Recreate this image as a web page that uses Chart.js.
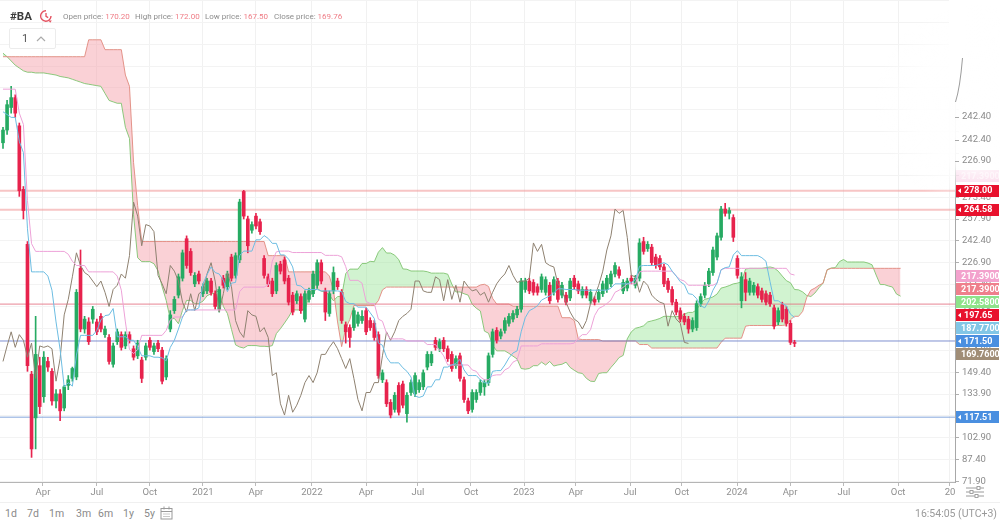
<!DOCTYPE html>
<html>
<head>
<meta charset="utf-8">
<script src="https://cdn.jsdelivr.net/npm/chart.js@4.4.1/dist/chart.umd.min.js"></script>
<style>
html,body{margin:0;padding:0;background:#fff;}
#wrap{position:relative;width:1000px;height:522px;overflow:hidden;font-family:Roboto,"Noto Sans",Arial,sans-serif;}
#cvbox{position:absolute;left:0;top:0;width:1000px;height:502px;}
.abs{position:absolute;white-space:nowrap;}
.sym{left:10px;top:9px;font-size:11.5px;font-weight:bold;color:#3c3c3c;}
.lbl{top:12px;font-size:8px;color:#8d8d8d;}
.lbl b{font-weight:normal;color:#ef7d86;margin-left:2px;}
.box{left:9px;top:28px;width:45px;height:19px;border:1px solid #ececec;border-radius:2px;background:rgba(255,255,255,0.85);}
.box span{position:absolute;left:12px;top:3px;font-size:11px;color:#555;}
#bottom{position:absolute;left:0;top:502px;width:1000px;height:20px;border-top:1px solid #f0f0f0;}
.per{top:4px;font-size:10.5px;color:#8a8a8a;}
.clock{right:3px;top:4px;font-size:10.5px;color:#9a9a9a;}
</style>
</head>
<body>
<div id="wrap">
  <div id="cvbox"><canvas id="cv"></canvas></div>
  <div class="abs sym">#BA</div>
  <svg class="abs" style="left:38px;top:8px" width="16" height="16" viewBox="0 0 16 16">
    <path d="M13 8 A5.2 5.2 0 1 1 8 2.8" fill="none" stroke="#e4515f" stroke-width="1.4"/>
    <path d="M8 5 V8.3 L10.2 9.6" fill="none" stroke="#e4515f" stroke-width="1.3"/>
    <path d="M10.5 12.5 L13.8 12.5 L12.2 14.8 Z" fill="#e4515f"/>
  </svg>
  <div class="abs lbl" style="left:63px">Open price:<b>170.20</b></div>
  <div class="abs lbl" style="left:135px">High price:<b>172.00</b></div>
  <div class="abs lbl" style="left:205px">Low price:<b>167.50</b></div>
  <div class="abs lbl" style="left:274px">Close price:<b>169.76</b></div>
  <div class="abs box"><span>1</span>
    <svg style="position:absolute;left:26px;top:6px" width="10" height="7" viewBox="0 0 10 7"><polyline points="1,6 5,2 9,6" fill="none" stroke="#aaa" stroke-width="1.2"/></svg>
  </div>
  <svg class="abs" style="left:965px;top:486px" width="20" height="12" viewBox="0 0 20 12">
    <line x1="1" y1="2" x2="19" y2="2" stroke="#9a9a9a" stroke-width="1"/>
    <line x1="1" y1="6" x2="19" y2="6" stroke="#9a9a9a" stroke-width="1"/>
    <line x1="1" y1="10" x2="19" y2="10" stroke="#9a9a9a" stroke-width="1"/>
    <rect x="12" y="0.5" width="3" height="3" fill="#fff" stroke="#9a9a9a" stroke-width="0.9"/>
    <rect x="5" y="4.5" width="3" height="3" fill="#fff" stroke="#9a9a9a" stroke-width="0.9"/>
    <rect x="10" y="8.5" width="3" height="3" fill="#fff" stroke="#9a9a9a" stroke-width="0.9"/>
  </svg>
  <div id="bottom">
    <div class="abs per" style="left:5px">1d</div>
    <div class="abs per" style="left:27px">7d</div>
    <div class="abs per" style="left:49px">1m</div>
    <div class="abs per" style="left:76px">3m</div>
    <div class="abs per" style="left:98px">6m</div>
    <div class="abs per" style="left:123px">1y</div>
    <div class="abs per" style="left:144px">5y</div>
    <svg class="abs" style="left:160px;top:3px" width="13" height="14" viewBox="0 0 13 14">
      <rect x="1" y="2.5" width="11" height="10.5" fill="none" stroke="#9a9a9a" stroke-width="1"/>
      <line x1="1" y1="5.5" x2="12" y2="5.5" stroke="#9a9a9a" stroke-width="1"/>
      <line x1="4" y1="0.5" x2="4" y2="3.5" stroke="#9a9a9a" stroke-width="1"/>
      <line x1="9" y1="0.5" x2="9" y2="3.5" stroke="#9a9a9a" stroke-width="1"/>
      <line x1="3" y1="8" x2="10" y2="8" stroke="#bbb" stroke-width="0.8"/>
      <line x1="3" y1="10.5" x2="10" y2="10.5" stroke="#bbb" stroke-width="0.8"/>
    </svg>
    <div class="abs clock">16:54:05 (UTC+3)</div>
  </div>
</div>
<script>
// ---------- DATA (weekly candles, index 0 = mid Jan 2020) ----------
const opens = [
312,321,337,344,324,279,240,148,117,154,
132,157,150,129,134,124,140,145,146,223,
180,185,187,185,189,176,174,155,171,176,
168,176,166,161,158,160,172,164,170,165,
146,180,193,204,216,244,235,212,219,205,
207,214,205,194,216,210,231,218,229,277.5,
258,250,260,256,230,217,214,207,226,229,
216,204,200,203,187,201,205,211,227,207,
191,207,214,206,183,181,181,184,186,193,
186,184,176,144,142,128,123,140,141,120,
135,134,137,139,153,156,172,166,172,166,
162,154,161,144,129,123,130,135,139,142,
162,179,175,179,184,187,190,194,208,214,
213,210,208,206,211,206,214,204,204,202,
216,212,204,208,200,201,201,205,208,212,
219,222,207,209,216,211,216,242,237,238,
231,230,224,214,208,199,193,189,187,180,
181,198,204,212,220,231,245,265,262,259,
230,200,215,206,206,210,207,205,204,195,
185,197,194,184,170.2
];
const highs = [
323,342,352,346,326,281,242,150,189,160,
164,160,152,137,137,140,147,153,208,236,
189,188,196,187,191,182,176,170,180,178,
178,178,168,172,160,170,174,170,172,167,
161,193,203,219,236,246,237,220,221,212,
216,216,207,210,218,221,233,234,272,278.3,
260,256,262,258,232,219,216,227,228,231,
218,206,207,205,207,209,221,229,229,209,
207,224,216,208,185,183,195,192,193,195,
188,186,178,151,144,130,135,142,143,135,
144,149,144,151,164,164,174,173,174,168,
164,161,163,146,131,137,137,144,144,163,
180,181,180,188,191,193,196,216,216,216,
215,212,219,217,213,217,216,213,206,216,
218,214,210,210,208,203,208,214,218,221,
227,224,215,216,218,218,244,245,242,240,
233,232,226,216,210,201,195,191,189,188,
200,205,213,223,238,248,267,269,266,261,
232,220,220,216,213,212,209,207,206,197,
195,199,196,186,172
];
const lows = [
308,318,333,330,274,258,150,89,95,120,
128,150,126,124,115,122,137,143,144,178,
177,169,184,176,178,174,155,153,169,165,
166,170,158,159,142,158,165,162,164,141,
144,178,191,202,214,223,218,210,212,203,
205,204,194,192,209,208,214,216,227,258,
234,248,251,247,216,210,203,205,219,212,
197,190,198,191,185,199,203,209,212,186,
189,205,208,184,170,167,179,182,184,176,
179,172,145,142,125,117,121,119,124,114,
133,132,135,137,151,154,165,164,164,157,
150,152,143,128,120,121,128,133,133,140,
160,170,173,177,182,185,188,192,206,205,
204,204,206,204,198,204,199,202,197,200,
208,205,202,202,198,197,199,203,206,210,
217,216,205,207,212,209,214,233,235,225,
223,222,210,206,197,190,185,183,177,178,
179,196,202,210,218,229,243,260,258,242,
216,195,200,204,204,202,199,197,196,180,
183,185,182,169,167.5
];
const closes = [
321,339,344,333,278,264,154,95,162,125,
160,153,129,134,122,139,144,152,206,180,
187,171,194,178,180,180,157,168,178,167,
176,172,160,170,145,168,167,168,166,143,
159,190,201,217,234,225,220,218,214,210,
214,206,196,208,211,219,216,232,270,260,
239,254,253,249,218,212,205,225,221,214,
199,192,205,193,205,207,219,227,214,192,
205,220,210,186,178,174,193,190,189,178,
181,174,147,149,127,119,133,121,126,133,
142,147,142,149,162,162,167,171,166,159,
152,159,145,130,122,135,135,142,142,161,
178,172,178,186,189,191,194,214,214,207,
206,206,217,215,200,215,201,211,199,214,
210,207,208,204,206,199,206,212,216,219,
225,218,213,214,214,216,241,235,240,227,
225,224,212,208,199,192,187,185,180,186,
198,203,211,221,236,246,265,262,264,245,
218,217,206,214,211,204,201,199,198,182,
193,187,184,170.5,169.76
];
// Ichimoku conversion line (light blue), index 0..194
const tenkan = [
334,332,330,330,313,305,251,220.5,220.5,220.5,
220.5,217.5,207.5,185,165.5,139,142,139.5,161.5,175.5,
175.5,175.5,175.5,179,186.5,189.5,190,194.5,174.5,174.5,
174.5,172,172,167.5,161,161,161,160,160,159.5,
157.5,167,172,180,188.5,193.5,193.5,193.5,195,212,
218.5,224,220,219,214.5,206.5,212.5,213,232,235.2,
235.2,235.2,243.2,243.2,246.2,244.2,240.7,240.7,232.5,232.5,
229.5,224,211,210.5,208,208,208,208,207,207,
207,207,207,206.5,199.5,198,198,195.5,195.5,195.5,
191.5,187.5,170,168.5,160,156,156,156,152.5,150,
146,132.5,131.5,132.5,139,139,144,144,153,153,
154.5,155.5,158.5,151,147,147,147,144,142,141.5,
150,150.5,150.5,154.5,159.5,163,164.5,178,188,193,
194.5,196.5,200.5,202,203.5,205.5,208.5,208.5,208,208,
208,207.5,207.5,207.5,207.5,207.5,207.5,207.5,207.5,209,
212,212,212,212,213,215,224.5,225,225,225,
225,226,227,225.5,221,217.5,213.5,211.5,205,204.5,
201.5,196.5,195,200,207.5,212.5,222,223.5,224,232.5,
235.5,232,232,232,232,232,230.5,228,213.5,200,
200,198,196.5,190.5,188.25
];
// Ichimoku base line (pink), index 0..194
const kijun = [
350,350,350,350,333,325,271,240.5,235,235,
235,235,235,235,235,235,233,228,225,225,
225,220.5,220.5,220.5,220.5,220.5,220.5,220.5,217.5,207.5,
185,165.5,162.5,165.5,175.5,175.5,175.5,175.5,175.5,175.5,
179,186.5,188.5,188.5,188.5,193.5,193.5,193.5,193.5,193.5,
193.5,193.5,193.5,193.5,193.5,193.5,193.5,193.5,206.5,209.7,
209.7,209.7,209.7,209.7,209.7,211.2,228.2,234.7,235.2,235.2,
235.2,234.2,234.2,234.2,234.2,234.2,234.2,234.2,234.2,232.2,
232.2,232.2,232.2,231.2,224.2,214.5,214.5,214.5,212.5,199.5,
198,198,187,185.5,177,173,173,173,173,171.5,
171.5,171.5,171.5,171.5,169,169,169,165,161,154.5,
154.5,154.5,154.5,154.5,154.5,151,150,146,144,144,
147,147.5,147.5,151,152.5,156.5,158,168,168,168,
168,168,169.5,169.5,169.5,169.5,169.5,169.5,169.5,169.5,
170,173.5,176,176,179.5,189.5,194.5,196,198,200.5,
206,207.5,209.5,212,212,212,220.5,221,221,221,
221,221,221,221,221,217.5,215,214,211,211,
211,211,211,211,211,212.5,222,223,223,223,
223,223,223,223,223,223,223,223,223,223,
223,223,223,219,218.25
];
// Lagging span (brown-grey), drawn from index 0..168
const chikou = [
157,168,178,167,
176,172,160,170,145,168,167,168,166,143,
159,190,201,217,234,225,220,218,214,210,
214,206,196,208,211,219,216,232,270,260,
239,254,253,249,218,212,205,225,221,214,
199,192,205,193,205,207,219,227,214,192,
205,220,210,186,178,174,193,190,189,178,
181,174,147,149,127,119,133,121,126,133,
142,147,142,149,162,162,167,171,166,159,
152,159,145,130,122,135,135,142,142,161,
178,172,178,186,189,191,194,214,214,207,
206,206,217,215,200,215,201,211,199,214,
210,207,208,204,206,199,206,212,216,219,
225,218,213,214,214,216,241,235,240,227,
225,224,212,208,199,192,187,185,180,186,
198,203,211,221,236,246,265,262,264,245,
218,217,206,214,211,204,201,199,198,182,
193,187,184,170.5,169.76
];
// Leading span A (green edge), index 0..220
const spanA = [
375.5,373,370,367,365,363,362,362,361.5,361.5,
361.5,361,360.5,360,359,358.5,358,357,356,355,
354,353.5,353,352.5,352,347,342,341,340,340,
323,315,261,230.5,227.75,227.75,227.75,226.25,221.25,210,
200.25,187,187.5,183.75,193.25,200.25,200.25,198,198,199.75,
203.5,205,205.25,207.5,196,191,179.75,168.75,167.25,166.5,
168.25,168.25,168.25,167.75,167.75,167.5,168.25,176.75,180.25,184.25,
188.5,193.5,193.5,193.5,194.25,202.75,206,208.75,206.75,206.25,
204,200,203,203.25,219.25,222.45,222.45,222.45,226.45,226.45,
227.95,227.7,234.45,237.7,233.85,233.85,232.35,229.1,222.6,222.35,
221.1,221.1,221.1,221.1,220.6,219.6,219.6,219.6,219.6,218.85,
211.85,206.25,206.25,205,204,197.5,194.75,192.75,178.5,177,
168.5,164.5,164.5,164.5,162.75,160.75,158.75,152,151.5,152,
154,154,156.5,154.5,157,153.75,154.5,155,156.5,152.75,
150.75,149,148.5,145,143,142.75,148.5,149,149,152.75,
156,159.75,161.25,173,178,180.5,181.25,182.25,185,185.75,
186.5,187.5,189,189,188.75,188.75,189,190.5,191.75,191.75,
193.5,198.5,201,201.75,202.75,204.75,209,209.75,210.75,212,
212.5,213.5,222.5,223,223,223,223,223.5,224,223.25,
221,217.5,214.25,212.75,208,207.75,206.25,203.75,203,205.5,
209.25,212.5,222,223.25,223.5,227.75,229.25,227.5,227.5,227.5,
227.5,227.5,226.75,225.5,218.25,211.5,211.5,210.5,209.75,204.75,
203.25
];
// Leading span B (red edge), index 0..220
const spanB = [
373,373,373,373,373,373,373,373,373,373,
373,373,373,373,373,373,373,373,373,373,
373,385,385,385,385,378,378,378,378,378,
360,352,298,267.5,242,242,242,242,242,242,
242,242,242,242,242,242,242,242,242,242,
242,242,242,242,242,242,242,242,242,242,
242,242,242,242,242,232,232,232,232,232,
220.5,220.5,220.5,220.5,220.5,220.5,220.5,220.5,220.5,220.5,
217.5,207.5,185,167.5,180.5,186.7,196.7,196.7,196.7,196.7,
196.7,196.7,200.1,207.7,209.7,209.7,209.7,209.7,209.7,209.7,
209.7,209.7,209.7,209.7,209.7,209.7,209.7,209.7,209.7,209.7,
209.7,209.7,209.7,209.7,209.7,209.7,209.7,211.2,211.7,210.2,
201.7,197.7,197.7,197.7,197.7,196.2,196.2,196.2,196.2,196.2,
196.2,196.2,196.2,196.2,196.2,196.2,196.2,188,188,188,
186,173,172.5,172.5,172.5,172.5,172.5,171.5,171.5,171.5,
171.5,171.5,171.5,171.5,171.5,171.5,169,169,169,166.5,
166.5,166.5,166.5,166.5,166.5,166.5,166.5,166.5,166.5,166.5,
166.5,166.5,166.5,166.5,166.5,166.5,170.5,173.5,173.5,173.5,
173.5,173.5,182,182.5,182.5,182.5,182.5,182.5,182.5,182.5,
182.5,182.5,183,186.5,189,189,192.5,202.5,207.5,209,
211,212.5,222,223,223,223,223,223,223,223,
223,223,223,223,223,223,223,223,223,223,
223
];
// Horizontal price levels
const levelValues = [278.00, 264.58, 197.65, 171.50, 117.51];
// Right-hand price tags
const tagValues = [278.00, 264.58, 217.39, 217.39, 202.58, 197.65, 187.77, 171.50, 169.76, 117.51];
const tagTexts  = ['278.00','264.58','217.3900','217.3900','202.5800','197.65','187.7700','171.50','169.7600','117.51'];
// Axis ticks
const xTickPos    = [9.8, 23.0, 36.0, 49.0, 62.0, 75.7, 89.0, 101.7, 114.7, 127.7, 140.4, 153.7, 166.4, 179.9, 192.9, 206.1, 219.4, 232.1];
const xTickLabels = ['Apr','Jul','Oct','2021','Apr','2022','Apr','Jul','Oct','2023','Apr','Jul','Oct','2024','Apr','Jul','Oct','20'];
const yTickValues = [71.9,87.4,102.9,118.4,133.9,149.4,164.9,180.4,195.9,211.4,226.9,242.4,257.9,273.4,288.9,304.4,319.9,335.4,350.9,366.4,381.9,397.4,412.9];
const yTickLabels = ['71.90','87.40','102.90','118.40','133.90','149.40','164.90','180.40','195.90','211.40','226.90','242.40','257.90','273.40','','','','','','','','',''];
const ghostTickValues = [330.2, 314.0, 299.1];
const ghostTickLabels = ['242.40','242.40','226.90'];
const fadedTagValue = 288.4;

// ---------- STYLE ----------
const UP = '#27ab63', DOWN = '#e7234d';
const levelStyles = [
  {c:'rgba(240,150,150,0.55)', w:2},
  {c:'rgba(240,150,150,0.55)', w:2},
  {c:'rgba(228,110,128,0.85)', w:1},
  {c:'rgba(105,125,200,0.85)', w:1},
  {c:'rgba(110,150,215,0.85)', w:1}
];
const tagStyles = [
  {bg:'#e8112d', arrow:true},
  {bg:'#e8112d', arrow:true},
  {bg:'#f3a2cd', arrow:false},
  {bg:'#ef7f8c', arrow:false},
  {bg:'#8ee38a', arrow:false},
  {bg:'#e8112d', arrow:true},
  {bg:'#82c6e6', arrow:false},
  {bg:'#4a8fe0', arrow:true},
  {bg:'#a08d76', arrow:false},
  {bg:'#4a8fe0', arrow:true}
];

const candleColors = closes.map((c, i) => (c >= opens[i] ? UP : DOWN));
const pts = arr => arr.map((v, i) => ({x: i, y: v}));
const wickData = opens.map((_, i) => ({x: i, y: [lows[i], highs[i]]}));
const bodyData = opens.map((_, i) => ({x: i, y: [opens[i], closes[i]]}));

const lineDs = (label, data, color, order) => ({
  type: 'line', label, data, borderColor: color, borderWidth: 1,
  pointRadius: 0, pointHoverRadius: 0, tension: 0, fill: false, order
});

const datasets = [];
datasets.push(lineDs('Tenkan', pts(tenkan), '#6dbde2', 1));
datasets.push(lineDs('Kijun', pts(kijun), '#eda2d8', 1));
datasets.push(lineDs('Chikou', pts(chikou), '#8e8170', 1));
levelValues.forEach((v, k) => {
  const d = lineDs('lvl' + k, [{x: -5, y: v}, {x: 240, y: v}], levelStyles[k].c, 3);
  d.borderWidth = levelStyles[k].w;
  datasets.push(d);
});
datasets.push({type:'bar', label:'wick', data: wickData, backgroundColor: candleColors,
  barThickness: 1, grouped: false, borderWidth: 0, order: 2});
datasets.push({type:'bar', label:'body', data: bodyData, backgroundColor: candleColors,
  barThickness: 3, grouped: false, borderWidth: 0, minBarLength: 1, order: 2});
const idxB = datasets.length;
datasets.push(lineDs('SpanB', pts(spanB), 'rgba(226,135,125,0.9)', 4));
const dsA = lineDs('SpanA', pts(spanA), 'rgba(128,196,112,0.9)', 4);
dsA.fill = {target: idxB, above: 'rgba(152,228,150,0.45)', below: 'rgba(246,164,174,0.5)'};
datasets.push(dsA);

// ---------- overlay plugin (price tags, glare, extra labels) ----------
function drawTag(ctx, x, y, w, h, bg, text, arrow, alpha) {
  ctx.save();
  ctx.globalAlpha = alpha;
  ctx.fillStyle = bg;
  ctx.fillRect(x, Math.round(y - h / 2), w, h);
  if (arrow) {
    ctx.fillStyle = '#fff';
    ctx.beginPath();
    ctx.moveTo(x + 2, y);
    ctx.lineTo(x + 5, y - 2.5);
    ctx.lineTo(x + 5, y + 2.5);
    ctx.closePath();
    ctx.fill();
  }
  ctx.fillStyle = '#fff';
  ctx.font = 'bold 9px Roboto, "Noto Sans", sans-serif';
  ctx.textBaseline = 'middle';
  ctx.textAlign = 'left';
  ctx.fillText(text, x + (arrow ? 8 : 5), y + 0.5);
  ctx.restore();
}
const overlay = {
  id: 'overlay',
  afterDraw(chart) {
    const ctx = chart.ctx, ys = chart.scales.y, a = chart.chartArea;
    const tx = a.right + 1, tw = 43, th = 12;
    // faded tag behind glare
    drawTag(ctx, tx, ys.getPixelForValue(fadedTagValue), tw, th, '#f3a2cd', '217.3900', false, 0.6);
    ctx.save();
    // hide the top of the axis border
    const lg = ctx.createLinearGradient(0, 0, 0, 104);
    lg.addColorStop(0, 'rgba(255,255,255,1)');
    lg.addColorStop(0.9, 'rgba(255,255,255,1)');
    lg.addColorStop(1, 'rgba(255,255,255,0)');
    ctx.fillStyle = lg;
    ctx.fillRect(a.right - 6, 0, 16, 104);
    // white glare on the top right corner
    const g = ctx.createRadialGradient(975, 105, 0, 975, 105, 100);
    g.addColorStop(0, 'rgba(255,255,255,1)');
    g.addColorStop(0.6, 'rgba(255,255,255,0.9)');
    g.addColorStop(1, 'rgba(255,255,255,0)');
    ctx.fillStyle = g;
    ctx.fillRect(870, 0, 130, 210);
    ctx.strokeStyle = '#9c9c9c';
    ctx.lineWidth = 1;
    ctx.beginPath();
    ctx.moveTo(962.5, 58);
    ctx.quadraticCurveTo(960, 88, a.right + 0.5, 102);
    ctx.stroke();
    // extra labels on the glare
    ctx.font = '9.5px Roboto, "Noto Sans", sans-serif';
    ctx.fillStyle = '#8a8a8a';
    ctx.textBaseline = 'middle';
    ctx.textAlign = 'left';
    ghostTickValues.forEach((v, k) => {
      const y = ys.getPixelForValue(v);
      ctx.beginPath();
      ctx.moveTo(a.right, Math.round(y) + 0.5);
      ctx.lineTo(a.right + 4, Math.round(y) + 0.5);
      ctx.strokeStyle = '#aaa';
      ctx.stroke();
      ctx.fillText(ghostTickLabels[k], a.right + 7, y);
    });
    ctx.restore();
    // stacked price tags
    let prev = -1e9;
    tagValues.forEach((v, k) => {
      let y = ys.getPixelForValue(v);
      if (y < prev + 13) y = prev + 13;
      prev = y;
      drawTag(ctx, tx, y, tw, th, tagStyles[k].bg, tagTexts[k], tagStyles[k].arrow, 1);
    });
  }
};

new Chart(document.getElementById('cv'), {
  type: 'bar',
  data: {datasets},
  options: {
    responsive: true,
    maintainAspectRatio: false,
    animation: false,
    events: [],
    layout: {padding: 0},
    plugins: {legend: {display: false}, tooltip: {enabled: false}},
    scales: {
      x: {
        type: 'linear', min: -0.735, max: 233.33, offset: false,
        grid: {color: '#f1f1f1', offset: false, tickLength: 4, tickColor: '#bbb'},
        border: {display: true, color: '#b5b5b5'},
        afterBuildTicks: s => { s.ticks = xTickPos.map(v => ({value: v})); },
        afterFit: s => { s.height = 20; s.paddingLeft = 0; s.paddingRight = 0; },
        ticks: {
          autoSkip: false, maxRotation: 0, padding: 1,
          color: '#8f8f8f', font: {family: 'Roboto', size: 9.5},
          callback: (v, i) => xTickLabels[i]
        }
      },
      y: {
        type: 'linear', position: 'right', min: 71.55, max: 413.2,
        grid: {color: '#f3f3f3', tickLength: 4, tickColor: '#b0b0b0'},
        border: {display: true, color: '#a8a8a8'},
        afterBuildTicks: s => { s.ticks = yTickValues.map(v => ({value: v})); },
        afterFit: s => { s.width = 45; s.paddingTop = 0; s.paddingBottom = 0; },
        ticks: {
          autoSkip: false, padding: 3,
          color: '#8a8a8a', font: {family: 'Roboto', size: 9.5},
          callback: (v, i) => yTickLabels[i]
        }
      }
    }
  },
  plugins: [overlay]
});
</script>
</body>
</html>
